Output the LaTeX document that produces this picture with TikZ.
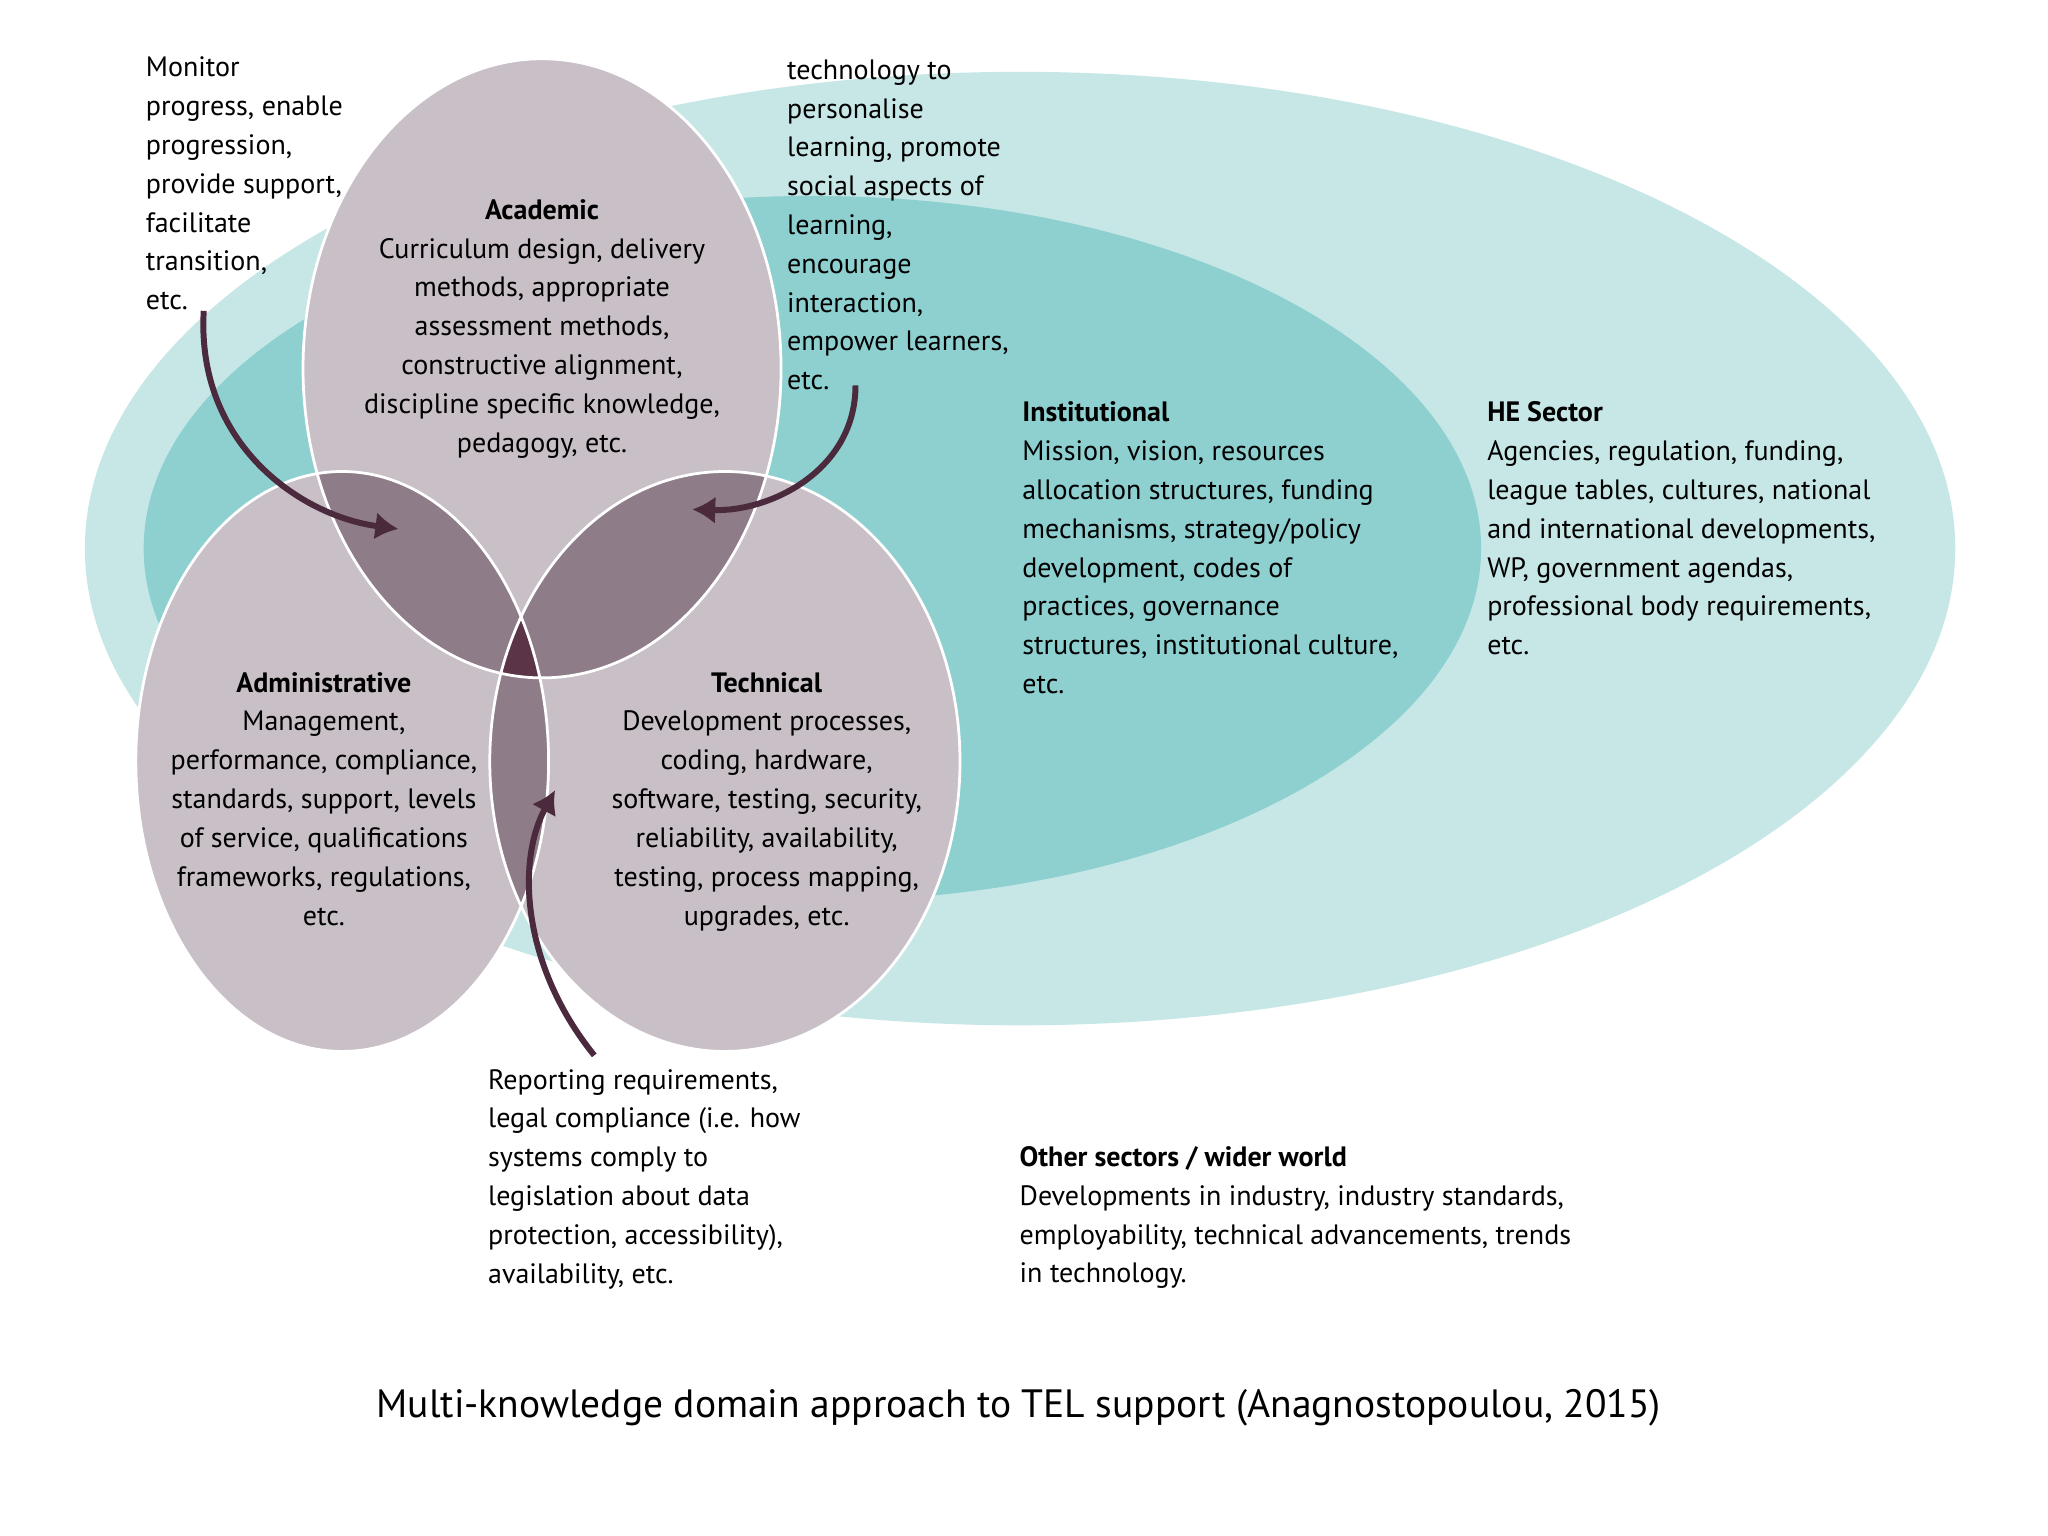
\documentclass[tikz,border=0pt]{standalone}
\usepackage{fontspec}
\setmainfont{PT Sans}
\begin{document}
\begin{tikzpicture}[x=0.01cm,y=-0.01cm,
  txt/.style={inner sep=0pt,font=\fontsize{6.1}{8.45}\selectfont},
  arr/.style={draw=arrowc,line width=1.3pt,-{Latex[length=5pt,width=6pt]}}]
\usetikzlibrary{arrows.meta}
\definecolor{he}{HTML}{C7E7E7}
\definecolor{inst}{HTML}{8ED0D0}
\definecolor{circ}{HTML}{C8C0C6}
\definecolor{two}{HTML}{8E7C88}
\definecolor{three}{HTML}{5B3447}
\definecolor{arrowc}{HTML}{4A2A3C}
\useasboundingbox (0,0) rectangle (1568,1176);
\fill[white] (0,0) rectangle (1568,1176);
\fill[he] (781,420) ellipse [x radius=716,y radius=365];
\fill[inst] (622,420) ellipse [x radius=512,y radius=270];
\def\A{(415,282) ellipse [x radius=183,y radius=237]}
\def\B{(262,583) ellipse [x radius=158,y radius=222]}
\def\C{(555,583) ellipse [x radius=180,y radius=222]}
\fill[circ] \A; \fill[circ] \B; \fill[circ] \C;
\begin{scope}\clip \A; \fill[two] \B; \fill[two] \C; \end{scope}
\begin{scope}\clip \B; \fill[two] \C; \end{scope}
\begin{scope}\clip \A; \clip \B; \fill[three] \C; \end{scope}
\draw[white,line width=0.6pt] \A; \draw[white,line width=0.6pt] \B; \draw[white,line width=0.6pt] \C;

\node[txt,anchor=north west,align=left] (mon) at (111,43) {Monitor\\progress, enable\\progression,\\provide support,\\facilitate\\transition,\\etc.};
\node[txt,anchor=north west,align=left] (tech) at (602,45) {technology to\\personalise\\learning, promote\\social aspects of\\learning,\\encourage\\interaction,\\empower learners,\\etc.};
\node[txt,anchor=north,align=center] (acad) at (415,152) {\textbf{Academic}\\Curriculum design, delivery\\methods, appropriate\\assessment methods,\\constructive alignment,\\discipline specific knowledge,\\pedagogy, etc.};
\node[txt,anchor=north west,align=left] (inst) at (782,307) {\textbf{Institutional}\\Mission, vision, resources\\allocation structures, funding\\mechanisms, strategy/policy\\development, codes of\\practices, governance\\structures, institutional culture,\\etc.};
\node[txt,anchor=north west,align=left] (he) at (1138,307) {\textbf{HE Sector}\\Agencies, regulation, funding,\\league tables, cultures, national\\and international developments,\\WP, government agendas,\\professional body requirements,\\etc.};
\node[txt,anchor=north,align=center] (adm) at (248,514) {\textbf{Administrative}\\Management,\\performance, compliance,\\standards, support, levels\\of service, qualifications\\frameworks, regulations,\\etc.};
\node[txt,anchor=north,align=center] (tec) at (587,514) {\textbf{Technical}\\Development processes,\\coding, hardware,\\software, testing, security,\\reliability, availability,\\testing, process mapping,\\upgrades, etc.};
\node[txt,anchor=north west,align=left] (rep) at (373,818) {Reporting requirements,\\legal compliance (i.e. how\\systems comply to\\legislation about data\\protection, accessibility),\\availability, etc.};
\node[txt,anchor=north west,align=left] (oth) at (780,877) {\textbf{Other sectors / wider world}\\Developments in industry, industry standards,\\employability, technical advancements, trends\\in technology.};
\node[inner sep=0pt,font=\fontsize{8.6}{10}\selectfont] (title) at (780,1078) {Multi-knowledge domain approach to TEL support (Anagnostopoulou, 2015)};

\coordinate (a1) at (156,238); \coordinate (a2) at (305,405);
\coordinate (b1) at (655,295); \coordinate (b2) at (530,390);
\coordinate (c1) at (455,808); \coordinate (c2) at (425,605);
\draw[arr] (a1) .. controls (150,340) and (230,395) .. (a2);
\draw[arr] (b1) .. controls (655,360) and (590,392) .. (b2);
\draw[arr] (c1) .. controls (400,740) and (395,660) .. (c2);
\end{tikzpicture}
\end{document}
